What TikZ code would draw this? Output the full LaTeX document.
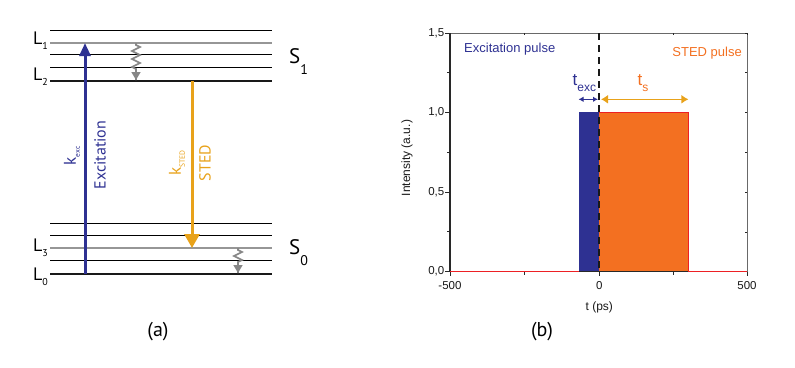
\documentclass[tikz,border=0pt]{standalone}
\usepackage{fontspec}
\setmainfont{Liberation Sans}
\newfontfamily\myr{PT Sans}
\usetikzlibrary{arrows.meta,decorations.pathmorphing,calc}
\definecolor{navy}{RGB}{46,49,146}
\definecolor{stedor}{RGB}{243,112,33}
\definecolor{gold}{RGB}{232,162,26}
\definecolor{redl}{RGB}{237,32,36}
\definecolor{lvlgray}{RGB}{150,150,150}
\definecolor{wavgray}{RGB}{135,135,135}
\definecolor{axc}{RGB}{40,40,40}
\tikzset{
  thinlvl/.style={line width=0.8pt, black},
  graylvl/.style={line width=2pt, lvlgray},
  thicklvl/.style={line width=2.6pt, black!90},
  lvllab/.style={anchor=base east, inner sep=0pt, font=\myr\fontsize{18}{20}\selectfont},
  slab/.style={anchor=base west, inner sep=0pt, font=\myr\fontsize{21}{24}\selectfont},
  wavy/.style={wavgray, line width=1.6pt, decorate, decoration={zigzag, segment length=8pt, amplitude=4pt, pre length=2pt, post length=9pt}},
  wavtip/.style={wavgray, line width=1.6pt, -{Triangle[width=9pt,length=8pt]}},
  tick/.style={axc, line width=0.9pt},
  ticklab/.style={inner sep=0pt, font=\fontsize{11.5}{12}\selectfont, text=black!90},
}
\begin{document}
\begin{tikzpicture}[x=1pt,y=-1pt]
\useasboundingbox (0,0) rectangle (795,367);
% ---------------- panel (a) ----------------
\foreach \yy/\nm in {30/a, 54.3/b, 67.3/c, 223.3/d, 235/e, 260/f}{
  \coordinate (t\nm w) at (50,\yy); \coordinate (t\nm e) at (272,\yy);
  \draw[thinlvl] (t\nm w) -- (t\nm e);
}
\coordinate (l1w) at (50,43); \coordinate (l1e) at (272,43);
\coordinate (l2w) at (50,81); \coordinate (l2e) at (272,81);
\coordinate (l3w) at (50,248); \coordinate (l3e) at (272,248);
\coordinate (l0w) at (50,274); \coordinate (l0e) at (272,274);
\draw[graylvl] (l1w) -- (l1e);
\draw[graylvl] (l3w) -- (l3e);
\draw[thicklvl] (l2w) -- (l2e);
\draw[thicklvl] (l0w) -- (l0e);

\node[lvllab] (L1) at (48,44) {L\raisebox{-5pt}{\fontsize{10}{11}\selectfont 1}};
\node[lvllab] (L2) at (48,80) {L\raisebox{-5pt}{\fontsize{10}{11}\selectfont 2}};
\node[lvllab] (L3) at (48,251) {L\raisebox{-5pt}{\fontsize{10}{11}\selectfont 3}};
\node[lvllab] (L0) at (48,280) {L\raisebox{-5pt}{\fontsize{10}{11}\selectfont 0}};
\node[slab] (S1) at (289,63) {S\raisebox{-11pt}{\fontsize{14}{16}\selectfont 1}};
\node[slab] (S0) at (289,254) {S\raisebox{-11pt}{\fontsize{14}{16}\selectfont 0}};

% excitation arrow
\coordinate (exb) at (85,274); \coordinate (ext) at (85,43);
\draw[navy, line width=3pt, -{Triangle[width=11pt,length=13pt]}] (exb) -- (ext);
\node[rotate=90, text=navy, inner sep=0pt, font=\myr\fontsize{17}{18}\selectfont] (kexc) at (72,156) {k\raisebox{-4pt}{\fontsize{7.5}{8}\selectfont exc}};
\node[rotate=90, text=navy, inner sep=0pt, font=\myr\fontsize{16}{18}\selectfont] (exlab) at (100,155) {Excitation};

% STED arrow
\coordinate (stt) at (192,81); \coordinate (stb) at (192,248);
\draw[gold, line width=3pt, -{Triangle[width=15pt,length=14pt]}] (stt) -- (stb);
\node[rotate=90, text=gold, inner sep=0pt, font=\myr\fontsize{17}{18}\selectfont] (ksted) at (177,163) {k\raisebox{-4pt}{\fontsize{7.5}{8}\selectfont STED}};
\node[rotate=90, text=gold, inner sep=0pt, font=\myr\fontsize{16}{18}\selectfont] (stlab) at (205,163) {STED};

% wavy relaxation arrows
\coordinate (w1a) at (136,43); \coordinate (w1b) at (136,80);
\draw[wavy] (w1a) -- (w1b);
\draw[wavtip] ($(w1b)+(0,-10)$) -- (w1b);
\coordinate (w2a) at (238,248); \coordinate (w2b) at (238,273);
\draw[wavy] (w2a) -- (w2b);
\draw[wavtip] ($(w2b)+(0,-10)$) -- (w2b);

\node[inner sep=0pt, font=\myr\fontsize{20}{22}\selectfont] (pa) at (158,332) {(a)};

% ---------------- panel (b) ----------------
\coordinate (bl) at (450,271.7); \coordinate (tr) at (747,33);
\coordinate (tl) at (450,33); \coordinate (br) at (747,271.7);
% pulses
\coordinate (ex0) at (578.5,271.7); \coordinate (ex1) at (599.3,112.4);
\coordinate (st0) at (599.3,271.7); \coordinate (st1) at (688.4,112.4);
\fill[navy] (ex0) rectangle (ex1);
\fill[stedor] (st0) rectangle (st1);
\draw[redl, line width=0.9pt] (599.3,112.4) -- (st1) -- (688.4,271.7);
% axes frame
\draw[axc!70, line width=0.8pt] (tl) -- (tr) -- (br);
\draw[axc, line width=1.3pt] (tl) -- (bl) -- (br);
% ticks
\foreach \yy/\lab in {33/{1,5}, 112.4/{1,0}, 192/{0,5}, 271.7/{0,0}}{
  \draw[tick] (445,\yy) -- (450,\yy);
  \node[ticklab, anchor=east] at (444.5,\yy) {\lab};
  \draw[tick, line width=0.5pt] (745,\yy) -- (747,\yy);
}
\foreach \yy in {72.7,152.2,231.9}{
  \draw[tick] (447,\yy) -- (450,\yy);
  \draw[tick, line width=0.5pt] (745,\yy) -- (747,\yy);
}
\foreach \xx/\lab in {450/{-500}, 599.3/{0}, 747/{500}}{
  \draw[tick] (\xx,271.7) -- (\xx,276);
  \node[ticklab] at (\xx,286) {\lab};
  \draw[tick, line width=0.5pt] (\xx,33) -- (\xx,35);
}
\foreach \xx in {524.6,673.6}{
  \draw[tick] (\xx,271.7) -- (\xx,274.5);
  \draw[tick, line width=0.5pt] (\xx,33) -- (\xx,35);
}
% red baseline
\draw[redl, line width=1.1pt] (bl) -- (ex0);
\draw[redl, line width=1.1pt] (688.4,271.7) -- (br);
% dashed zero line
\coordinate (z0) at (599.3,33); \coordinate (z1) at (599.3,271.7);
\draw[black!90, line width=1.9pt, dash pattern=on 7pt off 5pt] (z0) -- (z1);
% duration arrows
\coordinate (da) at (578.5,99.3); \coordinate (db) at (598,99.3);
\coordinate (dc) at (601,99.3); \coordinate (dd) at (688.4,99.3);
\draw[navy, line width=1.3pt, {Latex[length=5pt,width=5.5pt]}-{Latex[length=5pt,width=5.5pt]}] (da) -- (db);
\draw[gold, line width=1.3pt, {Latex[length=7pt,width=9pt]}-{Latex[length=7pt,width=9pt]}] (dc) -- (dd);
\node[anchor=base west, inner sep=0pt, text=navy, font=\fontsize{17}{18}\selectfont] (texc) at (572.5,85) {t\raisebox{-6pt}{\fontsize{12}{13}\selectfont exc}};
\node[anchor=base west, inner sep=0pt, text=stedor, font=\fontsize{17}{18}\selectfont] (ts) at (637.5,85) {t\raisebox{-6.5pt}{\fontsize{12}{13}\selectfont s}};
% labels
\node[anchor=base west, inner sep=0pt, text=navy, font=\fontsize{13}{15}\selectfont] (expl) at (464,52.3) {Excitation pulse};
\node[anchor=base east, inner sep=0pt, text=stedor, font=\fontsize{13}{15}\selectfont] (stpl) at (742,56.7) {STED pulse};
\node[inner sep=0pt, font=\fontsize{12}{13}\selectfont, text=black!90] (xl) at (599.3,307) {t (ps)};
\node[rotate=90, inner sep=0pt, font=\fontsize{12}{13}\selectfont, text=black!90] (yl) at (407,158) {Intensity (a.u.)};
\node[inner sep=0pt, font=\myr\fontsize{20}{22}\selectfont] (pb) at (542,332) {(b)};
\end{tikzpicture}
\end{document}
